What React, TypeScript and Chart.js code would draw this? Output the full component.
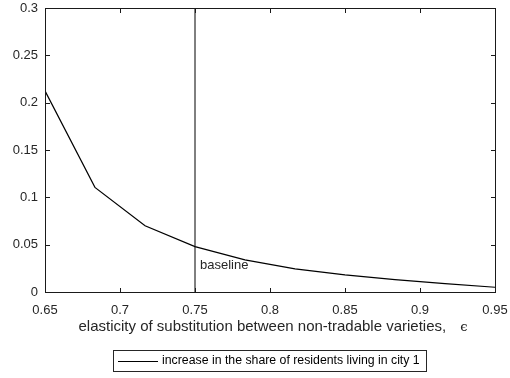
import React, { useEffect, useRef } from "react";
import { Chart, registerables } from "chart.js";

Chart.register(...registerables);

const epsValues = [0.65, 0.6833, 0.7167, 0.75, 0.7833, 0.8167, 0.85, 0.8833, 0.9167, 0.95];
const shareIncrease = [0.2125, 0.1105, 0.07, 0.048, 0.034, 0.0245, 0.018, 0.013, 0.0088, 0.005];
const baselineEps = 0.75;
const xTicks = [0.65, 0.7, 0.75, 0.8, 0.85, 0.9, 0.95];
const yTicks = [0, 0.05, 0.1, 0.15, 0.2, 0.25, 0.3];
const xTitle = "elasticity of substitution between non-tradable varieties,";
const xTitleSymbol = "\u03f5";
const legendLabel = "increase in the share of residents living in city 1";
const baselineLabel = "baseline";

const FONT = "Liberation Sans, Arial, Helvetica, sans-serif";

const framePlugin = {
  id: "frameTicks",
  afterDraw(chart: any) {
    const ctx = chart.ctx;
    const xs = chart.scales.x;
    const ys = chart.scales.y;
    const left = Math.round(chart.chartArea.left);
    const right = Math.round(chart.chartArea.right);
    const top = Math.round(chart.chartArea.top);
    const bottom = Math.round(chart.chartArea.bottom);
    ctx.save();
    ctx.fillStyle = "#1a1a1a";
    // frame
    ctx.fillRect(left, top, right - left + 1, 1);
    ctx.fillRect(left, bottom, right - left + 1, 1);
    ctx.fillRect(left, top, 1, bottom - top + 1);
    ctx.fillRect(right, top, 1, bottom - top + 1);
    const tl = 4;
    xTicks.forEach((v) => {
      const px = Math.round(xs.getPixelForValue(v));
      ctx.fillRect(px, bottom - tl, 1, tl);
      ctx.fillRect(px, top + 1, 1, tl);
    });
    yTicks.forEach((v) => {
      const py = Math.round(ys.getPixelForValue(v));
      ctx.fillRect(left + 1, py, tl, 1);
      ctx.fillRect(right - tl, py, tl, 1);
    });

    // baseline label
    ctx.fillStyle = "#262626";
    ctx.font = `13px ${FONT}`;
    ctx.textBaseline = "middle";
    ctx.textAlign = "left";
    ctx.fillText(baselineLabel, xs.getPixelForValue(baselineEps) + 5, 265);

    // x title
    ctx.font = `15px ${FONT}`;
    const w = ctx.measureText(xTitle).width;
    ctx.font = `13px DejaVu Serif, serif`;
    const gap = 14;
    const ws = ctx.measureText(xTitleSymbol).width;
    const total = w + gap + ws;
    const cx = (left + right) / 2 + 3;
    const sx = cx - total / 2;
    ctx.font = `15px ${FONT}`;
    ctx.fillText(xTitle, sx, 327);
    ctx.font = `13px DejaVu Serif, serif`;
    ctx.fillText(xTitleSymbol, sx + w + gap, 328);

    // legend
    const lx = 113, ly = 350, lw = 313, lh = 21;
    ctx.fillStyle = "#ffffff";
    ctx.fillRect(lx, ly, lw, lh);
    ctx.fillStyle = "#262626";
    ctx.fillRect(lx, ly, lw + 1, 1);
    ctx.fillRect(lx, ly + lh, lw + 1, 1);
    ctx.fillRect(lx, ly, 1, lh + 1);
    ctx.fillRect(lx + lw, ly, 1, lh + 1);
    ctx.fillStyle = "#000000";
    ctx.fillRect(118, 361, 40, 1);
    ctx.font = `12.3px ${FONT}`;
    ctx.fillText(legendLabel, 162, 361);
    ctx.restore();
  },
};

export default function App() {
  const ref = useRef<HTMLCanvasElement>(null);
  useEffect(() => {
    if (!ref.current) return;
    const chart = new Chart(ref.current, {
      type: "scatter",
      data: {
        datasets: [
          {
            label: legendLabel,
            data: epsValues.map((x, i) => ({ x, y: shareIncrease[i] })),
            showLine: true,
            borderColor: "#000000",
            borderWidth: 1.2,
            pointRadius: 0,
            tension: 0,
          },
          {
            label: baselineLabel,
            data: [
              { x: baselineEps, y: yTicks[0] },
              { x: baselineEps, y: yTicks[yTicks.length - 1] },
            ],
            showLine: true,
            borderColor: "#000000",
            borderWidth: 1,
            pointRadius: 0,
          },
        ],
      },
      options: {
        animation: false,
        responsive: false,
        events: [],
        layout: { padding: { top: 8, right: 15, left: 0, bottom: 0 } },
        plugins: { legend: { display: false }, tooltip: { enabled: false } },
        scales: {
          x: {
            type: "linear",
            min: 0.65,
            max: 0.95,
            afterBuildTicks: (s: any) => {
              s.ticks = xTicks.map((v) => ({ value: v }));
            },
            afterFit: (s: any) => {
              s.height = 86;
              s.paddingLeft = 0;
              s.paddingRight = 0;
            },
            grid: { display: false, drawTicks: false },
            border: { display: false },
            ticks: {
              padding: 11,
              color: "#262626",
              font: { family: FONT, size: 13 },
              maxRotation: 0,
              autoSkip: false,
              callback: (v: any) => String(Number(v)),
            },
          },
          y: {
            type: "linear",
            min: 0,
            max: 0.3,
            afterBuildTicks: (s: any) => {
              s.ticks = yTicks.map((v) => ({ value: v }));
            },
            afterFit: (s: any) => {
              s.width = 45;
              s.paddingTop = 0;
              s.paddingBottom = 0;
            },
            grid: { display: false, drawTicks: false },
            border: { display: false },
            ticks: {
              padding: 7,
              color: "#262626",
              font: { family: FONT, size: 13 },
              autoSkip: false,
              callback: (v: any) => String(Number(v)),
            },
          },
        },
      },
      plugins: [framePlugin],
    });
    return () => chart.destroy();
  }, []);
  return (
    <div style={{ position: "fixed", left: 0, top: 0, width: 510, height: 378, background: "#fff" }}>
      <canvas ref={ref} width={510} height={378} style={{ width: 510, height: 378, display: "block" }} />
    </div>
  );
}
